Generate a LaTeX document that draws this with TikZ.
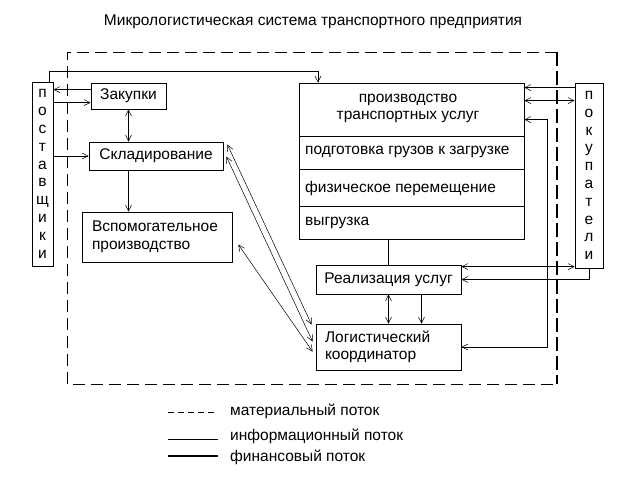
\documentclass[tikz,border=0pt]{standalone}
\usepackage{fontspec}
\setmainfont{Liberation Sans}
\usetikzlibrary{arrows.meta}

\tikzset{
  blok/.style={draw, line width=0.8pt, inner sep=0pt},
  strelka/.style={line width=0.5pt, -{Straight Barb[length=6pt,width=6pt]}},
  dvestrelki/.style={line width=0.5pt,
    {Straight Barb[length=6pt,width=6pt]}-{Straight Barb[length=6pt,width=6pt]}},
  bukvy/.style={blok, align=center, font=\fontsize{15.5pt}{17.8pt}\selectfont}
}

\begin{document}
\begin{tikzpicture}[x=1pt, y=-1pt, font=\fontsize{15.5pt}{17.5pt}\selectfont]

    \useasboundingbox (0,0) rectangle (627,478);

    % Draw title
    \node (titul) at (313,22) {Микрологистическая система транспортного предприятия};

    % Draw border of the system
    \draw[line width=0.6pt, dash pattern=on 12pt off 6pt]
      (557,52) -- (67,52) -- (67,384) -- (557,384);
    \draw[line width=1.6pt, dash pattern=on 14pt off 5pt] (557,52) -- (557,384);

    % Draw suppliers and customers
    \node[bukvy, minimum width=21pt, minimum height=184pt] (post) at (42.5,174)
      {п\\о\\с\\т\\а\\в\\щ\\и\\к\\и};
    \node[bukvy, minimum width=28pt, minimum height=185pt] (pok) at (589,175.5)
      {п\\о\\к\\у\\п\\а\\т\\е\\л\\и};

    % Draw left blocks
    \node[blok, minimum width=75pt, minimum height=26pt] (zak) at (128.5,96) {Закупки};
    \node[blok, minimum width=134pt, minimum height=28pt] (skl) at (156,156) {Складирование};
    \node[blok, inner xsep=10pt, text width=130pt, minimum height=50pt, align=left]
      (vsp) at (157,237) {Вспомогательное\\производство};

    % Draw production block
    \node[blok, minimum width=225pt, minimum height=156pt] (prod) at (411.5,161) {};
    \node[align=center] (zag) at (408,108.5) {производство\\транспортных услуг};
    \foreach \y in {136, 169, 206}{
      \draw[line width=0.8pt] (299,\y) -- (524,\y);
    }
    \node[anchor=west, inner sep=0pt] (podg) at (305,152) {подготовка грузов к загрузке};
    \node[anchor=west, inner sep=0pt] (fiz) at (305,188) {физическое перемещение};
    \node[anchor=west, inner sep=0pt] (vyg) at (305,223) {выгрузка};

    % Draw realization and coordinator
    \node[blok, minimum width=145pt, minimum height=29pt] (real) at (388.5,279.5) {Реализация услуг};
    \node[blok, inner xsep=9pt, text width=127pt, minimum height=46pt, align=left]
      (log) at (388.5,347) {Логистический\\координатор};

    % Draw arrows near suppliers
    \coordinate (z1) at ([yshift=-7pt]zak.north west);
    \coordinate (z2) at ([yshift=-20pt]zak.north west);
    \draw[strelka] (z1) -- (z1 -| post.east);
    \draw[strelka] (z2 -| post.east) -- (z2);
    \draw[strelka] (skl.west -| post.east) -- (skl.west);
    \coordinate (verh) at (318,71);
    \draw[strelka] ([xshift=-4pt]post.north east) |- (verh) -- (verh |- prod.north);

    % Draw arrows between left blocks
    \draw[dvestrelki] (zak.south) -- (zak.south |- skl.north);
    \draw[strelka] (zak.south |- skl.south) -- (zak.south |- vsp.north);

    % Draw arrows near customers
    \coordinate (p1) at ([yshift=-5pt]pok.north west);
    \coordinate (p2) at ([yshift=-18pt]pok.north west);
    \coordinate (p3) at ([yshift=-37pt]prod.north east);
    \coordinate (kol) at (547,347);
    \draw[strelka] (p1) -- (p1 -| prod.east);
    \draw[dvestrelki] (p2) -- (p2 -| prod.east);
    \draw[dvestrelki] (p3) -| (kol) -- (log.east);
    \coordinate (r1) at ([yshift=-2pt]real.north east);
    \draw[dvestrelki] (r1) -- (r1 -| pok.west);
    \draw[strelka] (pok.south) |- (real.east);

    % Draw arrows around realization
    \draw[line width=0.5pt] (real.north) -- (real.north |- prod.south);
    \draw[dvestrelki] (real.south) -- (log.north);
    \draw[strelka] ([xshift=33pt]real.south) -- ([xshift=33pt]log.north);

    % Draw diagonal arrows to coordinator
    \draw[dvestrelki] ([xshift=4pt,yshift=-3pt]skl.north east)
      -- ([xshift=-4pt,yshift=-1pt]log.north west);
    \draw[dvestrelki] ([xshift=3pt,yshift=-15pt]skl.north east)
      -- ([xshift=-3pt,yshift=-18pt]log.north west);
    \draw[dvestrelki] ([xshift=6pt,yshift=-33pt]vsp.north east)
      -- ([xshift=-3pt,yshift=-28pt]log.north west);

    % Draw legend
    \draw[line width=0.6pt, dash pattern=on 6pt off 4pt] (168,412) -- (218,412);
    \draw[line width=0.6pt] (168,439) -- (218,439);
    \draw[line width=1.6pt] (168,456) -- (218,456);
    \node[anchor=west, inner sep=0pt] (mat) at (230,411) {материальный поток};
    \node[anchor=west, inner sep=0pt] (inf) at (230,436) {информационный поток};
    \node[anchor=west, inner sep=0pt] (fin) at (230,457) {финансовый поток};

  \end{tikzpicture}
\end{document}
